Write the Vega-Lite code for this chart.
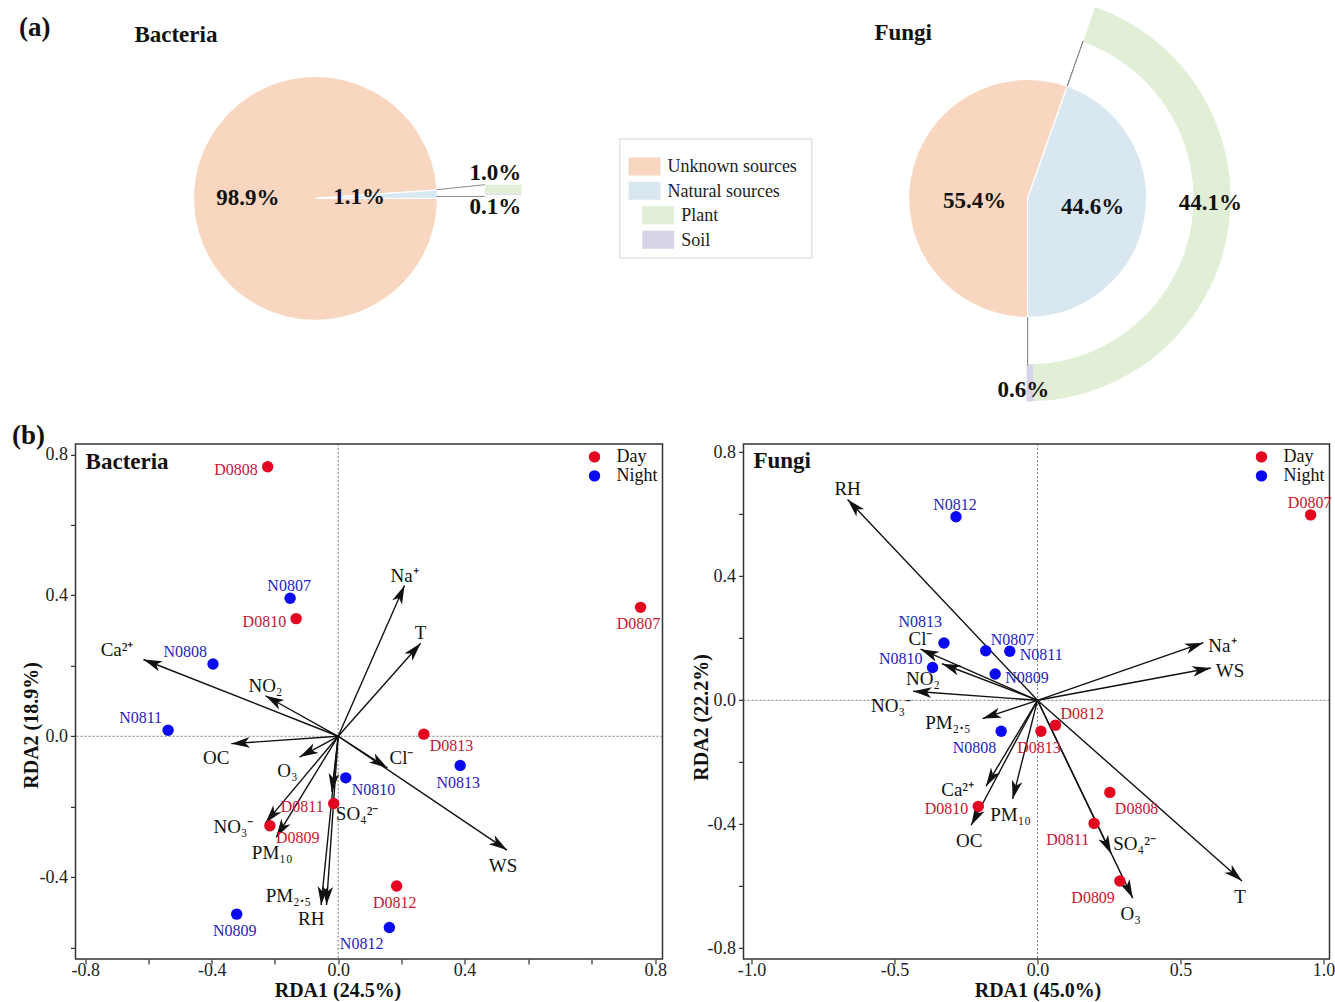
{
"$schema":"https://vega.github.io/schema/vega-lite/v6.json",
"background":"white",
"padding":{"left":10.5,"top":1.4,"right":0,"bottom":0},
"config":{
 "font":"Liberation Serif",
 "view":{"stroke":null},
 "axis":{"domain":false,"grid":false,"ticks":true,"tickSize":5,"tickColor":"#333333","tickWidth":1.2,"labelFont":"Liberation Serif","labelFontSize":18,"labelColor":"#222222","titleFont":"Liberation Serif","titleFontSize":20,"titleFontWeight":"bold","titleColor":"#111111","labelFlush":false,"labelOverlap":false},
 "legend":{"labelFont":"Liberation Serif"},
 "text":{"font":"Liberation Serif"},
 "title":{"font":"Liberation Serif","color":"#111111"}
},
"datasets":{
 "bac_src":[{"source":"Unknown sources","share":0.989},{"source":"Natural sources","share":0.011}],
 "bac_sub":[{"source":"Plant","share":0.010},{"source":"Soil","share":0.001}],
 "fun_src":[{"source":"Unknown sources","share":0.554},{"source":"Natural sources","share":0.446}],
 "fun_sub":[{"source":"Plant","share":0.441},{"source":"Soil","share":0.006}],
 "legend_items":[{"source":"Unknown sources","level":1},{"source":"Natural sources","level":1},{"source":"Plant","level":2},{"source":"Soil","level":2}],
 "bac_s":[
  {"name":"D0808","group":"Day","rda1":-0.223,"rda2":0.765},
  {"name":"N0807","group":"Night","rda1":-0.152,"rda2":0.392},
  {"name":"D0810","group":"Day","rda1":-0.133,"rda2":0.334},
  {"name":"D0807","group":"Day","rda1":0.769,"rda2":0.366},
  {"name":"N0808","group":"Night","rda1":-0.396,"rda2":0.205},
  {"name":"N0811","group":"Night","rda1":-0.538,"rda2":0.017},
  {"name":"D0813","group":"Day","rda1":0.271,"rda2":0.006},
  {"name":"N0813","group":"Night","rda1":0.386,"rda2":-0.083},
  {"name":"N0810","group":"Night","rda1":0.024,"rda2":-0.118},
  {"name":"D0811","group":"Day","rda1":-0.014,"rda2":-0.191},
  {"name":"D0809","group":"Day","rda1":-0.216,"rda2":-0.254},
  {"name":"N0809","group":"Night","rda1":-0.321,"rda2":-0.505},
  {"name":"D0812","group":"Day","rda1":0.185,"rda2":-0.425},
  {"name":"N0812","group":"Night","rda1":0.162,"rda2":-0.543}
 ],
 "bac_v":[
  {"id":"Na","label":"Na⁺","rda1":0.21,"rda2":0.428},
  {"id":"T","label":"T","rda1":0.261,"rda2":0.264},
  {"id":"Ca","label":"Ca²⁺","rda1":-0.616,"rda2":0.218},
  {"id":"NO2","label":"NO₂","rda1":-0.23,"rda2":0.115},
  {"id":"OC","label":"OC","rda1":-0.338,"rda2":-0.021},
  {"id":"O3","label":"O₃","rda1":-0.122,"rda2":-0.059},
  {"id":"Cl","label":"Cl⁻","rda1":0.156,"rda2":-0.09},
  {"id":"WS","label":"WS","rda1":0.489,"rda2":-0.323},
  {"id":"SO4","label":"SO₄²⁻","rda1":-0.02,"rda2":-0.158},
  {"id":"NO3","label":"NO₃⁻","rda1":-0.23,"rda2":-0.246},
  {"id":"PM10","label":"PM₁₀","rda1":-0.196,"rda2":-0.287},
  {"id":"PM25","label":"PM₂.₅","rda1":-0.054,"rda2":-0.479},
  {"id":"RH","label":"RH","rda1":-0.037,"rda2":-0.479}
 ],
 "fun_s":[
  {"name":"N0812","group":"Night","rda1":-0.285,"rda2":0.592},
  {"name":"D0807","group":"Day","rda1":0.955,"rda2":0.598},
  {"name":"N0813","group":"Night","rda1":-0.327,"rda2":0.185},
  {"name":"N0807","group":"Night","rda1":-0.181,"rda2":0.16},
  {"name":"N0811","group":"Night","rda1":-0.097,"rda2":0.158},
  {"name":"N0810","group":"Night","rda1":-0.367,"rda2":0.106},
  {"name":"N0809","group":"Night","rda1":-0.148,"rda2":0.085},
  {"name":"N0808","group":"Night","rda1":-0.127,"rda2":-0.1},
  {"name":"D0813","group":"Day","rda1":0.012,"rda2":-0.1},
  {"name":"D0812","group":"Day","rda1":0.063,"rda2":-0.08},
  {"name":"D0808","group":"Day","rda1":0.253,"rda2":-0.297},
  {"name":"D0810","group":"Day","rda1":-0.207,"rda2":-0.342},
  {"name":"D0811","group":"Day","rda1":0.198,"rda2":-0.397},
  {"name":"D0809","group":"Day","rda1":0.288,"rda2":-0.583}
 ],
 "fun_v":[
  {"id":"RH","label":"RH","rda1":-0.664,"rda2":0.648},
  {"id":"Na","label":"Na⁺","rda1":0.58,"rda2":0.186},
  {"id":"WS","label":"WS","rda1":0.606,"rda2":0.104},
  {"id":"Cl","label":"Cl⁻","rda1":-0.409,"rda2":0.165},
  {"id":"NO2","label":"NO₂","rda1":-0.334,"rda2":0.118},
  {"id":"NO3","label":"NO₃⁻","rda1":-0.435,"rda2":0.029},
  {"id":"PM25","label":"PM₂.₅","rda1":-0.192,"rda2":-0.059},
  {"id":"Ca","label":"Ca²⁺","rda1":-0.18,"rda2":-0.277},
  {"id":"PM10","label":"PM₁₀","rda1":-0.087,"rda2":-0.318},
  {"id":"OC","label":"OC","rda1":-0.232,"rda2":-0.403},
  {"id":"SO4","label":"SO₄²⁻","rda1":0.258,"rda2":-0.495},
  {"id":"O3","label":"O₃","rda1":0.333,"rda2":-0.638},
  {"id":"T","label":"T","rda1":0.715,"rda2":-0.583}
 ]
},
"spacing":18.5,
"resolve":{"scale":{"color":"independent","fill":"independent","x":"independent","y":"independent","theta":"independent"},"legend":{"color":"independent"}},
"vconcat":[
{
 "hconcat":[
  {
   "width":480,"height":394,
   "title":{"text":"(a)","anchor":"start","frame":"group","orient":"top","offset":0,"dx":-56.5,"dy":53.6,"baseline":"middle","fontSize":27,"fontWeight":"bold","font":"Liberation Serif","color":"#111111"},
   "layer":[
    {"data":{"name":"bac_src"},"mark":{"type":"arc","outerRadius":122,"stroke":"#ffffff","strokeWidth":1.2},
     "encoding":{"theta":{"field":"share","type":"quantitative","stack":true,"scale":{"type":"linear","domain":[0,1],"range":[1.5017,7.7849],"nice":false,"zero":false}},
      "color":{"field":"source","type":"nominal","scale":{"domain":["Unknown sources","Natural sources","Plant","Soil"],"range":["#f8d6bf","#d9e7f1","#e1efd7","#d7d4ea"]},"legend":null},
      "order":{"field":"source","type":"nominal","sort":"ascending"}}},
    {"data":{"name":"bac_src"},"mark":{"type":"text","radius":67.6,"dy":-2.6,"fontSize":23,"fontWeight":"bold","color":"#111111"},
     "encoding":{"theta":{"field":"share","type":"quantitative","stack":true,"scale":{"type":"linear","domain":[0,1],"range":[1.5017,7.7849],"nice":false,"zero":false}},
      "detail":{"field":"source","type":"nominal"},
      "order":{"field":"source","type":"nominal","sort":"ascending"},
      "text":{"condition":{"test":"datum.source === 'Unknown sources'","field":"share","type":"quantitative","format":".1%"},"value":""}}},
    {"data":{"name":"bac_src"},"mark":{"type":"text","radius":43.7,"fontSize":23,"fontWeight":"bold","color":"#111111"},
     "encoding":{"theta":{"field":"share","type":"quantitative","stack":true,"scale":{"type":"linear","domain":[0,1],"range":[1.5017,7.7849],"nice":false,"zero":false}},
      "detail":{"field":"source","type":"nominal"},
      "order":{"field":"source","type":"nominal","sort":"ascending"},
      "text":{"condition":{"test":"datum.source === 'Natural sources'","field":"share","type":"quantitative","format":".1%"},"value":""}}},
    {"data":{"name":"bac_sub"},
     "transform":[{"stack":"share","groupby":[],"sort":[{"field":"source","order":"descending"}],"as":["y0","y1"]}],
     "mark":{"type":"rect"},
     "encoding":{"x":{"datum":1.388,"type":"quantitative","scale":{"type":"linear","domain":[-1.967,1.967],"nice":false,"zero":false},"axis":null},
      "x2":{"datum":1.689},
      "y":{"field":"y0","type":"quantitative","scale":{"type":"linear","domain":[-0.2208,0.2127],"nice":false,"zero":false},"axis":null},
      "y2":{"field":"y1"},
      "color":{"field":"source","type":"nominal","scale":{"domain":["Unknown sources","Natural sources","Plant","Soil"],"range":["#f8d6bf","#d9e7f1","#e1efd7","#d7d4ea"]},"legend":null}}},
    {"data":{"values":[{}]},"mark":{"type":"rule","color":"#8a8a8a","strokeWidth":1},
     "encoding":{"x":{"datum":0.992,"type":"quantitative","scale":{"type":"linear","domain":[-1.967,1.967],"nice":false,"zero":false}},"y":{"datum":0.0055,"type":"quantitative","scale":{"type":"linear","domain":[-0.2208,0.2127],"nice":false,"zero":false}},"x2":{"datum":1.388},"y2":{"datum":0.011}}},
    {"data":{"values":[{}]},"mark":{"type":"rule","color":"#8a8a8a","strokeWidth":1},
     "encoding":{"x":{"datum":0.992,"type":"quantitative","scale":{"type":"linear","domain":[-1.967,1.967],"nice":false,"zero":false}},"y":{"datum":-0.0019,"type":"quantitative","scale":{"type":"linear","domain":[-0.2208,0.2127],"nice":false,"zero":false}},"x2":{"datum":1.388},"y2":{"datum":-0.0019}}},
    {"data":{"name":"bac_sub"},
     "transform":[{"stack":"share","groupby":[],"sort":[{"field":"source","order":"descending"}],"as":["y0","y1"]},{"filter":"datum.source === 'Plant'"}],
     "mark":{"type":"text","dy":-11.6,"fontSize":23,"fontWeight":"bold","color":"#111111","baseline":"middle"},
     "encoding":{"x":{"datum":1.475,"type":"quantitative","scale":{"type":"linear","domain":[-1.967,1.967],"nice":false,"zero":false}},"y":{"field":"y1","type":"quantitative","scale":{"type":"linear","domain":[-0.2208,0.2127],"nice":false,"zero":false}},"text":{"field":"share","type":"quantitative","format":".1%"}}},
    {"data":{"name":"bac_sub"},
     "transform":[{"stack":"share","groupby":[],"sort":[{"field":"source","order":"descending"}],"as":["y0","y1"]},{"filter":"datum.source === 'Soil'"}],
     "mark":{"type":"text","dy":12.7,"fontSize":23,"fontWeight":"bold","color":"#111111","baseline":"middle"},
     "encoding":{"x":{"datum":1.475,"type":"quantitative","scale":{"type":"linear","domain":[-1.967,1.967],"nice":false,"zero":false}},"y":{"field":"y0","type":"quantitative","scale":{"type":"linear","domain":[-0.2208,0.2127],"nice":false,"zero":false}},"text":{"field":"share","type":"quantitative","format":".1%"}}},
    {"data":{"values":[{}]},"mark":{"type":"text","align":"left","baseline":"middle","fontSize":23,"fontWeight":"bold","color":"#111111"},
     "encoding":{"x":{"datum":-1.484,"type":"quantitative","scale":{"type":"linear","domain":[-1.967,1.967],"nice":false,"zero":false}},"y":{"datum":0.1752,"type":"quantitative","scale":{"type":"linear","domain":[-0.2208,0.2127],"nice":false,"zero":false}},"text":{"value":"Bacteria"}}}
   ]
  },
  {
   "width":192,"height":119,
   "view":{"stroke":"#e2e2e2","strokeWidth":1.5},
   "data":{"name":"legend_items"},
   "layer":[
    {"mark":{"type":"point","shape":"M-1,-0.5625H1V0.5625H-1Z","filled":true,"size":1024,"opacity":1,"strokeWidth":0},
     "encoding":{"x":{"field":"level","type":"quantitative","scale":{"domain":[-0.803,13.212],"nice":false,"zero":false},"axis":null},
      "y":{"field":"source","type":"nominal","scale":{"type":"point","domain":["Unknown sources","Natural sources","Plant","Soil"],"padding":0.932,"align":0.603},"axis":null},
      "color":{"field":"source","type":"nominal","scale":{"domain":["Unknown sources","Natural sources","Plant","Soil"],"range":["#f8d6bf","#d9e7f1","#e1efd7","#d7d4ea"]},"legend":null}}},
    {"mark":{"type":"text","align":"left","baseline":"middle","dx":23,"dy":1,"fontSize":18,"color":"#222222"},
     "encoding":{"x":{"field":"level","type":"quantitative","scale":{"domain":[-0.803,13.212],"nice":false,"zero":false},"axis":null},
      "y":{"field":"source","type":"nominal","scale":{"type":"point","domain":["Unknown sources","Natural sources","Plant","Soil"],"padding":0.932,"align":0.603},"axis":null},
      "text":{"field":"source"}}}
   ]
  },
  {
   "width":303,"height":394,
   "title":{"text":"Fungi","anchor":"start","frame":"group","orient":"top","offset":0,"dx":-1.6,"dy":55,"baseline":"middle","fontSize":23,"fontWeight":"bold","font":"Liberation Serif","color":"#111111"},
   "layer":[
    {"data":{"name":"fun_src"},"mark":{"type":"arc","outerRadius":119,"stroke":"#ffffff","strokeWidth":1.2},
     "encoding":{"theta":{"field":"share","type":"quantitative","stack":true,"scale":{"type":"linear","domain":[0,1],"range":[0.3393,6.6225],"nice":false,"zero":false}},
      "color":{"field":"source","type":"nominal","scale":{"domain":["Unknown sources","Natural sources","Plant","Soil"],"range":["#f8d6bf","#d9e7f1","#e1efd7","#d7d4ea"]},"legend":null},
      "order":{"field":"source","type":"nominal","sort":"ascending"}}},
    {"data":{"name":"fun_sub"},"mark":{"type":"arc","innerRadius":166,"outerRadius":203},
     "encoding":{"theta":{"field":"share","type":"quantitative","stack":true,"scale":{"type":"linear","domain":[0,1],"range":[0.3393,6.6225],"nice":false,"zero":false}},
      "color":{"field":"source","type":"nominal","scale":{"domain":["Unknown sources","Natural sources","Plant","Soil"],"range":["#f8d6bf","#d9e7f1","#e1efd7","#d7d4ea"]},"legend":null},
      "order":{"field":"source","type":"nominal","sort":"ascending"}}},
    {"data":{"values":[{}]},"mark":{"type":"arc","innerRadius":119,"outerRadius":167,"stroke":"#8a8a8a","strokeWidth":1,"fillOpacity":0},
     "encoding":{"theta":{"datum":0,"type":"quantitative","scale":{"type":"linear","domain":[0,1],"range":[0.3393,6.6225],"nice":false,"zero":false}},"theta2":{"datum":0}}},
    {"data":{"values":[{}]},"mark":{"type":"arc","innerRadius":119,"outerRadius":167,"stroke":"#8a8a8a","strokeWidth":1,"fillOpacity":0},
     "encoding":{"theta":{"datum":0.446,"type":"quantitative","scale":{"type":"linear","domain":[0,1],"range":[0.3393,6.6225],"nice":false,"zero":false}},"theta2":{"datum":0.446}}},
    {"data":{"name":"fun_src"},"mark":{"type":"text","radius":55,"dx":1.2,"dy":12.3,"fontSize":23,"fontWeight":"bold","color":"#111111"},
     "encoding":{"theta":{"field":"share","type":"quantitative","stack":true,"scale":{"type":"linear","domain":[0,1],"range":[0.3393,6.6225],"nice":false,"zero":false}},
      "detail":{"field":"source","type":"nominal"},
      "order":{"field":"source","type":"nominal","sort":"ascending"},
      "text":{"condition":{"test":"datum.source === 'Unknown sources'","field":"share","type":"quantitative","format":".1%"},"value":""}}},
    {"data":{"name":"fun_src"},"mark":{"type":"text","radius":66,"dy":-3,"fontSize":23,"fontWeight":"bold","color":"#111111"},
     "encoding":{"theta":{"field":"share","type":"quantitative","stack":true,"scale":{"type":"linear","domain":[0,1],"range":[0.3393,6.6225],"nice":false,"zero":false}},
      "detail":{"field":"source","type":"nominal"},
      "order":{"field":"source","type":"nominal","sort":"ascending"},
      "text":{"condition":{"test":"datum.source === 'Natural sources'","field":"share","type":"quantitative","format":".1%"},"value":""}}},
    {"data":{"name":"fun_sub"},"mark":{"type":"text","radius":185,"dy":-24,"fontSize":23,"fontWeight":"bold","color":"#111111"},
     "encoding":{"theta":{"field":"share","type":"quantitative","stack":true,"scale":{"type":"linear","domain":[0,1],"range":[0.3393,6.6225],"nice":false,"zero":false}},
      "detail":{"field":"source","type":"nominal"},
      "order":{"field":"source","type":"nominal","sort":"ascending"},
      "text":{"condition":{"test":"datum.source === 'Plant'","field":"share","type":"quantitative","format":".1%"},"value":""}}},
    {"data":{"name":"fun_sub"},"mark":{"type":"text","radius":192,"dx":-6.6,"fontSize":23,"fontWeight":"bold","color":"#111111"},
     "encoding":{"theta":{"field":"share","type":"quantitative","stack":true,"scale":{"type":"linear","domain":[0,1],"range":[0.3393,6.6225],"nice":false,"zero":false}},
      "detail":{"field":"source","type":"nominal"},
      "order":{"field":"source","type":"nominal","sort":"ascending"},
      "text":{"condition":{"test":"datum.source === 'Soil'","field":"share","type":"quantitative","format":".1%"},"value":""}}}
   ]
  }
 ],
 "spacing":64.3,
 "bounds":"flush",
 "center":true,
 "resolve":{"scale":{"color":"independent","x":"independent","y":"independent","theta":"independent"},"legend":{"color":"independent"}}
},
{
 "hconcat":[
  {
   "width":587,"height":515,
   "view":{"stroke":"#333333","strokeWidth":1.5},
   "title":{"text":"(b)","anchor":"start","frame":"group","orient":"top","offset":0,"dx":-63.5,"dy":19.8,"baseline":"middle","fontSize":27,"fontWeight":"bold","font":"Liberation Serif","color":"#111111"},
   "layer":[
    {"data":{"values":[{}]},"mark":{"type":"rule","color":"#555555","strokeDash":[2,2],"strokeWidth":0.8},
     "encoding":{"y":{"datum":0,"type":"quantitative","scale":{"type":"linear","domain":[-0.632,0.83],"nice":false,"zero":false},
      "axis":{"title":"RDA2 (18.9%)","values":[-0.6,-0.4,-0.2,0,0.2,0.4,0.6,0.8],"labelExpr":"indexof([-0.4,0,0.4,0.8], datum.value) >= 0 ? replace(format(datum.value, '.1f'), '\u2212', '-') : ''","labelPadding":3,"titleX":-44,"titleY":281,"titleBaseline":"middle","titleAlign":"center","titleAngle":270}}}},
    {"data":{"values":[{}]},"mark":{"type":"rule","color":"#555555","strokeDash":[2,2],"strokeWidth":0.8},
     "encoding":{"x":{"datum":0,"type":"quantitative","scale":{"type":"linear","domain":[-0.831,0.4,0.815],"range":[0,389.1,587],"nice":false,"zero":false},
      "axis":{"title":"RDA1 (24.5%)","values":[-0.8,-0.6,-0.4,-0.2,0,0.2,0.4,0.5333,0.6667,0.8],"labelExpr":"indexof([-0.8,-0.4,0,0.4,0.8], datum.value) >= 0 ? replace(format(datum.value, '.1f'), '\u2212', '-') : ''","labelPadding":-2,"titleX":262,"titleY":31.6,"titleBaseline":"middle","titleAlign":"center"}}}},
    {"data":{"name":"bac_v"},"mark":{"type":"rule","color":"#111111","strokeWidth":1.4},
     "encoding":{"x":{"field":"rda1","type":"quantitative","scale":{"type":"linear","domain":[-0.831,0.4,0.815],"range":[0,389.1,587],"nice":false,"zero":false},
      "axis":{"title":"RDA1 (24.5%)","values":[-0.8,-0.6,-0.4,-0.2,0,0.2,0.4,0.5333,0.6667,0.8],"labelExpr":"indexof([-0.8,-0.4,0,0.4,0.8], datum.value) >= 0 ? replace(format(datum.value, '.1f'), '\u2212', '-') : ''","labelPadding":-2,"titleX":262,"titleY":31.6,"titleBaseline":"middle","titleAlign":"center"}},
      "y":{"field":"rda2","type":"quantitative","scale":{"type":"linear","domain":[-0.632,0.83],"nice":false,"zero":false},
      "axis":{"title":"RDA2 (18.9%)","values":[-0.6,-0.4,-0.2,0,0.2,0.4,0.6,0.8],"labelExpr":"indexof([-0.4,0,0.4,0.8], datum.value) >= 0 ? replace(format(datum.value, '.1f'), '\u2212', '-') : ''","labelPadding":3,"titleX":-44,"titleY":281,"titleBaseline":"middle","titleAlign":"center","titleAngle":270}},
      "x2":{"datum":0},"y2":{"datum":0}}},
    {"data":{"name":"bac_v"},"mark":{"type":"point","shape":"M0,0L-0.55,1.9L0,1.4L0.55,1.9Z","filled":true,"size":380,"color":"#111111","opacity":1,"strokeWidth":0,
      "angle":{"expr":"atan2(datum.rda1 > 0.4 ? 126.4 + (datum.rda1 - 0.4) * 476.9 : datum.rda1 * 316.1, datum.rda2 * 352.3) * 180 / PI"}},
     "encoding":{"x":{"field":"rda1","type":"quantitative","scale":{"type":"linear","domain":[-0.831,0.4,0.815],"range":[0,389.1,587],"nice":false,"zero":false}},
      "y":{"field":"rda2","type":"quantitative","scale":{"type":"linear","domain":[-0.632,0.83],"nice":false,"zero":false}}}},
    {"data":{"name":"bac_s"},"mark":{"type":"point","shape":"circle","filled":true,"size":130,"opacity":1},
     "encoding":{"x":{"field":"rda1","type":"quantitative","scale":{"type":"linear","domain":[-0.831,0.4,0.815],"range":[0,389.1,587],"nice":false,"zero":false}},
      "y":{"field":"rda2","type":"quantitative","scale":{"type":"linear","domain":[-0.632,0.83],"nice":false,"zero":false}},
      "color":{"field":"group","type":"nominal","scale":{"domain":["Day","Night"],"range":["#e3051f","#0a0af0"]},
       "legend":{"orient":"top-right","title":null,"offset":4,"padding":0,"symbolType":"circle","symbolSize":130,"symbolStrokeWidth":0,"labelFontSize":18,"labelFont":"Liberation Serif","labelColor":"#111111","labelOffset":13,"rowPadding":1}}}},
    {"data":{"name":"bac_s"},"transform":[{"filter":{"field":"name","oneOf":["D0808","D0810","D0811"]}}],
     "mark":{"type":"text","align":"right","baseline":"middle","dx":-10,"dy":3,"fontSize":16},
     "encoding":{"x":{"field":"rda1","type":"quantitative","scale":{"type":"linear","domain":[-0.831,0.4,0.815],"range":[0,389.1,587],"nice":false,"zero":false}},"y":{"field":"rda2","type":"quantitative","scale":{"type":"linear","domain":[-0.632,0.83],"nice":false,"zero":false}},"text":{"field":"name"},"fill":{"field":"group","type":"nominal","scale":{"domain":["Day","Night"],"range":["#c8172f","#2424c0"]},"legend":null}}},
    {"data":{"name":"bac_s"},"transform":[{"filter":{"field":"name","oneOf":["N0807"]}}],
     "mark":{"type":"text","align":"center","baseline":"middle","dx":-1,"dy":-12,"fontSize":16},
     "encoding":{"x":{"field":"rda1","type":"quantitative","scale":{"type":"linear","domain":[-0.831,0.4,0.815],"range":[0,389.1,587],"nice":false,"zero":false}},"y":{"field":"rda2","type":"quantitative","scale":{"type":"linear","domain":[-0.632,0.83],"nice":false,"zero":false}},"text":{"field":"name"},"fill":{"field":"group","type":"nominal","scale":{"domain":["Day","Night"],"range":["#c8172f","#2424c0"]},"legend":null}}},
    {"data":{"name":"bac_s"},"transform":[{"filter":{"field":"name","oneOf":["D0807","N0813","N0809","D0812"]}}],
     "mark":{"type":"text","align":"center","baseline":"middle","dx":-2,"dy":17,"fontSize":16},
     "encoding":{"x":{"field":"rda1","type":"quantitative","scale":{"type":"linear","domain":[-0.831,0.4,0.815],"range":[0,389.1,587],"nice":false,"zero":false}},"y":{"field":"rda2","type":"quantitative","scale":{"type":"linear","domain":[-0.632,0.83],"nice":false,"zero":false}},"text":{"field":"name"},"fill":{"field":"group","type":"nominal","scale":{"domain":["Day","Night"],"range":["#c8172f","#2424c0"]},"legend":null}}},
    {"data":{"name":"bac_s"},"transform":[{"filter":{"field":"name","oneOf":["N0808","N0811"]}}],
     "mark":{"type":"text","align":"right","baseline":"middle","dx":-6,"dy":-12,"fontSize":16},
     "encoding":{"x":{"field":"rda1","type":"quantitative","scale":{"type":"linear","domain":[-0.831,0.4,0.815],"range":[0,389.1,587],"nice":false,"zero":false}},"y":{"field":"rda2","type":"quantitative","scale":{"type":"linear","domain":[-0.632,0.83],"nice":false,"zero":false}},"text":{"field":"name"},"fill":{"field":"group","type":"nominal","scale":{"domain":["Day","Night"],"range":["#c8172f","#2424c0"]},"legend":null}}},
    {"data":{"name":"bac_s"},"transform":[{"filter":{"field":"name","oneOf":["N0810","D0809","D0813"]}}],
     "mark":{"type":"text","align":"left","baseline":"middle","dx":6,"dy":12,"fontSize":16},
     "encoding":{"x":{"field":"rda1","type":"quantitative","scale":{"type":"linear","domain":[-0.831,0.4,0.815],"range":[0,389.1,587],"nice":false,"zero":false}},"y":{"field":"rda2","type":"quantitative","scale":{"type":"linear","domain":[-0.632,0.83],"nice":false,"zero":false}},"text":{"field":"name"},"fill":{"field":"group","type":"nominal","scale":{"domain":["Day","Night"],"range":["#c8172f","#2424c0"]},"legend":null}}},
    {"data":{"name":"bac_s"},"transform":[{"filter":{"field":"name","oneOf":["N0812"]}}],
     "mark":{"type":"text","align":"right","baseline":"middle","dx":-6,"dy":16,"fontSize":16},
     "encoding":{"x":{"field":"rda1","type":"quantitative","scale":{"type":"linear","domain":[-0.831,0.4,0.815],"range":[0,389.1,587],"nice":false,"zero":false}},"y":{"field":"rda2","type":"quantitative","scale":{"type":"linear","domain":[-0.632,0.83],"nice":false,"zero":false}},"text":{"field":"name"},"fill":{"field":"group","type":"nominal","scale":{"domain":["Day","Night"],"range":["#c8172f","#2424c0"]},"legend":null}}},
    {"data":{"name":"bac_v"},"transform":[{"filter":{"field":"id","oneOf":["Na","T","NO2"]}}],
     "mark":{"type":"text","align":"center","baseline":"middle","dx":0,"dy":-10,"fontSize":19,"color":"#111111"},
     "encoding":{"x":{"field":"rda1","type":"quantitative","scale":{"type":"linear","domain":[-0.831,0.4,0.815],"range":[0,389.1,587],"nice":false,"zero":false}},"y":{"field":"rda2","type":"quantitative","scale":{"type":"linear","domain":[-0.632,0.83],"nice":false,"zero":false}},"text":{"field":"label"}}},
    {"data":{"name":"bac_v"},"transform":[{"filter":{"field":"id","oneOf":["Ca","PM25"]}}],
     "mark":{"type":"text","align":"right","baseline":"middle","dx":-10,"dy":-9,"fontSize":19,"color":"#111111"},
     "encoding":{"x":{"field":"rda1","type":"quantitative","scale":{"type":"linear","domain":[-0.831,0.4,0.815],"range":[0,389.1,587],"nice":false,"zero":false}},"y":{"field":"rda2","type":"quantitative","scale":{"type":"linear","domain":[-0.632,0.83],"nice":false,"zero":false}},"text":{"field":"label"}}},
    {"data":{"name":"bac_v"},"transform":[{"filter":{"field":"id","oneOf":["OC","O3","RH"]}}],
     "mark":{"type":"text","align":"right","baseline":"middle","dx":-2,"dy":14,"fontSize":19,"color":"#111111"},
     "encoding":{"x":{"field":"rda1","type":"quantitative","scale":{"type":"linear","domain":[-0.831,0.4,0.815],"range":[0,389.1,587],"nice":false,"zero":false}},"y":{"field":"rda2","type":"quantitative","scale":{"type":"linear","domain":[-0.632,0.83],"nice":false,"zero":false}},"text":{"field":"label"}}},
    {"data":{"name":"bac_v"},"transform":[{"filter":{"field":"id","oneOf":["Cl"]}}],
     "mark":{"type":"text","align":"left","baseline":"middle","dx":2,"dy":-10,"fontSize":19,"color":"#111111"},
     "encoding":{"x":{"field":"rda1","type":"quantitative","scale":{"type":"linear","domain":[-0.831,0.4,0.815],"range":[0,389.1,587],"nice":false,"zero":false}},"y":{"field":"rda2","type":"quantitative","scale":{"type":"linear","domain":[-0.632,0.83],"nice":false,"zero":false}},"text":{"field":"label"}}},
    {"data":{"name":"bac_v"},"transform":[{"filter":{"field":"id","oneOf":["WS","PM10"]}}],
     "mark":{"type":"text","align":"center","baseline":"middle","dx":-4,"dy":16,"fontSize":19,"color":"#111111"},
     "encoding":{"x":{"field":"rda1","type":"quantitative","scale":{"type":"linear","domain":[-0.831,0.4,0.815],"range":[0,389.1,587],"nice":false,"zero":false}},"y":{"field":"rda2","type":"quantitative","scale":{"type":"linear","domain":[-0.632,0.83],"nice":false,"zero":false}},"text":{"field":"label"}}},
    {"data":{"name":"bac_v"},"transform":[{"filter":{"field":"id","oneOf":["SO4"]}}],
     "mark":{"type":"text","align":"left","baseline":"middle","dx":4,"dy":22,"fontSize":19,"color":"#111111"},
     "encoding":{"x":{"field":"rda1","type":"quantitative","scale":{"type":"linear","domain":[-0.831,0.4,0.815],"range":[0,389.1,587],"nice":false,"zero":false}},"y":{"field":"rda2","type":"quantitative","scale":{"type":"linear","domain":[-0.632,0.83],"nice":false,"zero":false}},"text":{"field":"label"}}},
    {"data":{"name":"bac_v"},"transform":[{"filter":{"field":"id","oneOf":["NO3"]}}],
     "mark":{"type":"text","align":"right","baseline":"middle","dx":-12,"dy":4,"fontSize":19,"color":"#111111"},
     "encoding":{"x":{"field":"rda1","type":"quantitative","scale":{"type":"linear","domain":[-0.831,0.4,0.815],"range":[0,389.1,587],"nice":false,"zero":false}},"y":{"field":"rda2","type":"quantitative","scale":{"type":"linear","domain":[-0.632,0.83],"nice":false,"zero":false}},"text":{"field":"label"}}},
    {"data":{"values":[{}]},"mark":{"type":"text","align":"left","baseline":"middle","fontSize":23,"fontWeight":"bold","color":"#111111"},
     "encoding":{"x":{"datum":-0.799,"type":"quantitative","scale":{"type":"linear","domain":[-0.831,0.4,0.815],"range":[0,389.1,587],"nice":false,"zero":false}},"y":{"datum":0.778,"type":"quantitative","scale":{"type":"linear","domain":[-0.632,0.83],"nice":false,"zero":false}},"text":{"value":"Bacteria"}}}
   ]
  },
  {
   "width":586,"height":515,
   "view":{"stroke":"#333333","strokeWidth":1.5},
   "layer":[
    {"data":{"values":[{}]},"mark":{"type":"rule","color":"#555555","strokeDash":[2,2],"strokeWidth":0.8},
     "encoding":{"y":{"datum":0,"type":"quantitative","scale":{"type":"linear","domain":[-0.834,0.827],"nice":false,"zero":false},
      "axis":{"title":"RDA2 (22.2%)","values":[-0.8,-0.6,-0.4,-0.2,0,0.2,0.4,0.6,0.8],"labelExpr":"indexof([-0.8,-0.4,0,0.4,0.8], datum.value) >= 0 ? replace(format(datum.value, '.1f'), '\u2212', '-') : ''","labelPadding":3,"titleX":-42,"titleY":273,"titleBaseline":"middle","titleAlign":"center","titleAngle":270}}}},
    {"data":{"values":[{}]},"mark":{"type":"rule","color":"#555555","strokeDash":[2,2],"strokeWidth":0.8},
     "encoding":{"x":{"datum":0,"type":"quantitative","scale":{"type":"linear","domain":[-1.028,1.021],"nice":false,"zero":false},
      "axis":{"title":"RDA1 (45.0%)","values":[-1,-0.5,0,0.5,1],"labelExpr":"replace(format(datum.value, '.1f'), '\u2212', '-')","labelPadding":-2,"titleX":294,"titleY":31.6,"titleBaseline":"middle","titleAlign":"center"}}}},
    {"data":{"name":"fun_v"},"mark":{"type":"rule","color":"#111111","strokeWidth":1.4},
     "encoding":{"x":{"field":"rda1","type":"quantitative","scale":{"type":"linear","domain":[-1.028,1.021],"nice":false,"zero":false},
      "axis":{"title":"RDA1 (45.0%)","values":[-1,-0.5,0,0.5,1],"labelExpr":"replace(format(datum.value, '.1f'), '\u2212', '-')","labelPadding":-2,"titleX":294,"titleY":31.6,"titleBaseline":"middle","titleAlign":"center"}},
      "y":{"field":"rda2","type":"quantitative","scale":{"type":"linear","domain":[-0.834,0.827],"nice":false,"zero":false},
      "axis":{"title":"RDA2 (22.2%)","values":[-0.8,-0.6,-0.4,-0.2,0,0.2,0.4,0.6,0.8],"labelExpr":"indexof([-0.8,-0.4,0,0.4,0.8], datum.value) >= 0 ? replace(format(datum.value, '.1f'), '\u2212', '-') : ''","labelPadding":3,"titleX":-42,"titleY":273,"titleBaseline":"middle","titleAlign":"center","titleAngle":270}},
      "x2":{"datum":0},"y2":{"datum":0}}},
    {"data":{"name":"fun_v"},"mark":{"type":"point","shape":"M0,0L-0.55,1.9L0,1.4L0.55,1.9Z","filled":true,"size":380,"color":"#111111","opacity":1,"strokeWidth":0,
      "angle":{"expr":"atan2(datum.rda1 * 286, datum.rda2 * 310.1) * 180 / PI"}},
     "encoding":{"x":{"field":"rda1","type":"quantitative","scale":{"type":"linear","domain":[-1.028,1.021],"nice":false,"zero":false}},
      "y":{"field":"rda2","type":"quantitative","scale":{"type":"linear","domain":[-0.834,0.827],"nice":false,"zero":false}}}},
    {"data":{"name":"fun_s"},"mark":{"type":"point","shape":"circle","filled":true,"size":130,"opacity":1},
     "encoding":{"x":{"field":"rda1","type":"quantitative","scale":{"type":"linear","domain":[-1.028,1.021],"nice":false,"zero":false}},
      "y":{"field":"rda2","type":"quantitative","scale":{"type":"linear","domain":[-0.834,0.827],"nice":false,"zero":false}},
      "color":{"field":"group","type":"nominal","scale":{"domain":["Day","Night"],"range":["#e3051f","#0a0af0"]},
       "legend":{"orient":"top-right","title":null,"offset":4,"padding":0,"symbolType":"circle","symbolSize":130,"symbolStrokeWidth":0,"labelFontSize":18,"labelFont":"Liberation Serif","labelColor":"#111111","labelOffset":13,"rowPadding":1}}}},
    {"data":{"name":"fun_s"},"transform":[{"filter":{"field":"name","oneOf":["D0810"]}}],
     "mark":{"type":"text","align":"right","baseline":"middle","dx":-10,"dy":3,"fontSize":16},
     "encoding":{"x":{"field":"rda1","type":"quantitative","scale":{"type":"linear","domain":[-1.028,1.021],"nice":false,"zero":false}},"y":{"field":"rda2","type":"quantitative","scale":{"type":"linear","domain":[-0.834,0.827],"nice":false,"zero":false}},"text":{"field":"name"},"fill":{"field":"group","type":"nominal","scale":{"domain":["Day","Night"],"range":["#c8172f","#2424c0"]},"legend":null}}},
    {"data":{"name":"fun_s"},"transform":[{"filter":{"field":"name","oneOf":["N0812","D0807"]}}],
     "mark":{"type":"text","align":"center","baseline":"middle","dx":-1,"dy":-12,"fontSize":16},
     "encoding":{"x":{"field":"rda1","type":"quantitative","scale":{"type":"linear","domain":[-1.028,1.021],"nice":false,"zero":false}},"y":{"field":"rda2","type":"quantitative","scale":{"type":"linear","domain":[-0.834,0.827],"nice":false,"zero":false}},"text":{"field":"name"},"fill":{"field":"group","type":"nominal","scale":{"domain":["Day","Night"],"range":["#c8172f","#2424c0"]},"legend":null}}},
    {"data":{"name":"fun_s"},"transform":[{"filter":{"field":"name","oneOf":["D0813"]}}],
     "mark":{"type":"text","align":"center","baseline":"middle","dx":-2,"dy":17,"fontSize":16},
     "encoding":{"x":{"field":"rda1","type":"quantitative","scale":{"type":"linear","domain":[-1.028,1.021],"nice":false,"zero":false}},"y":{"field":"rda2","type":"quantitative","scale":{"type":"linear","domain":[-0.834,0.827],"nice":false,"zero":false}},"text":{"field":"name"},"fill":{"field":"group","type":"nominal","scale":{"domain":["Day","Night"],"range":["#c8172f","#2424c0"]},"legend":null}}},
    {"data":{"name":"fun_s"},"transform":[{"filter":{"field":"name","oneOf":["N0810"]}}],
     "mark":{"type":"text","align":"right","baseline":"middle","dx":-10,"dy":-8,"fontSize":16},
     "encoding":{"x":{"field":"rda1","type":"quantitative","scale":{"type":"linear","domain":[-1.028,1.021],"nice":false,"zero":false}},"y":{"field":"rda2","type":"quantitative","scale":{"type":"linear","domain":[-0.834,0.827],"nice":false,"zero":false}},"text":{"field":"name"},"fill":{"field":"group","type":"nominal","scale":{"domain":["Day","Night"],"range":["#c8172f","#2424c0"]},"legend":null}}},
    {"data":{"name":"fun_s"},"transform":[{"filter":{"field":"name","oneOf":["N0813"]}}],
     "mark":{"type":"text","align":"right","baseline":"middle","dx":-2,"dy":-21,"fontSize":16},
     "encoding":{"x":{"field":"rda1","type":"quantitative","scale":{"type":"linear","domain":[-1.028,1.021],"nice":false,"zero":false}},"y":{"field":"rda2","type":"quantitative","scale":{"type":"linear","domain":[-0.834,0.827],"nice":false,"zero":false}},"text":{"field":"name"},"fill":{"field":"group","type":"nominal","scale":{"domain":["Day","Night"],"range":["#c8172f","#2424c0"]},"legend":null}}},
    {"data":{"name":"fun_s"},"transform":[{"filter":{"field":"name","oneOf":["D0808"]}}],
     "mark":{"type":"text","align":"left","baseline":"middle","dx":5,"dy":17,"fontSize":16},
     "encoding":{"x":{"field":"rda1","type":"quantitative","scale":{"type":"linear","domain":[-1.028,1.021],"nice":false,"zero":false}},"y":{"field":"rda2","type":"quantitative","scale":{"type":"linear","domain":[-0.834,0.827],"nice":false,"zero":false}},"text":{"field":"name"},"fill":{"field":"group","type":"nominal","scale":{"domain":["Day","Night"],"range":["#c8172f","#2424c0"]},"legend":null}}},
    {"data":{"name":"fun_s"},"transform":[{"filter":{"field":"name","oneOf":["N0808","D0811","D0809"]}}],
     "mark":{"type":"text","align":"right","baseline":"middle","dx":-5,"dy":17,"fontSize":16},
     "encoding":{"x":{"field":"rda1","type":"quantitative","scale":{"type":"linear","domain":[-1.028,1.021],"nice":false,"zero":false}},"y":{"field":"rda2","type":"quantitative","scale":{"type":"linear","domain":[-0.834,0.827],"nice":false,"zero":false}},"text":{"field":"name"},"fill":{"field":"group","type":"nominal","scale":{"domain":["Day","Night"],"range":["#c8172f","#2424c0"]},"legend":null}}},
    {"data":{"name":"fun_s"},"transform":[{"filter":{"field":"name","oneOf":["N0811","N0809"]}}],
     "mark":{"type":"text","align":"left","baseline":"middle","dx":10,"dy":4,"fontSize":16},
     "encoding":{"x":{"field":"rda1","type":"quantitative","scale":{"type":"linear","domain":[-1.028,1.021],"nice":false,"zero":false}},"y":{"field":"rda2","type":"quantitative","scale":{"type":"linear","domain":[-0.834,0.827],"nice":false,"zero":false}},"text":{"field":"name"},"fill":{"field":"group","type":"nominal","scale":{"domain":["Day","Night"],"range":["#c8172f","#2424c0"]},"legend":null}}},
    {"data":{"name":"fun_s"},"transform":[{"filter":{"field":"name","oneOf":["N0807","D0812"]}}],
     "mark":{"type":"text","align":"left","baseline":"middle","dx":5,"dy":-11,"fontSize":16},
     "encoding":{"x":{"field":"rda1","type":"quantitative","scale":{"type":"linear","domain":[-1.028,1.021],"nice":false,"zero":false}},"y":{"field":"rda2","type":"quantitative","scale":{"type":"linear","domain":[-0.834,0.827],"nice":false,"zero":false}},"text":{"field":"name"},"fill":{"field":"group","type":"nominal","scale":{"domain":["Day","Night"],"range":["#c8172f","#2424c0"]},"legend":null}}},
    {"data":{"name":"fun_v"},"transform":[{"filter":{"field":"id","oneOf":["RH","Cl"]}}],
     "mark":{"type":"text","align":"center","baseline":"middle","dx":0,"dy":-10,"fontSize":19,"color":"#111111"},
     "encoding":{"x":{"field":"rda1","type":"quantitative","scale":{"type":"linear","domain":[-1.028,1.021],"nice":false,"zero":false}},"y":{"field":"rda2","type":"quantitative","scale":{"type":"linear","domain":[-0.834,0.827],"nice":false,"zero":false}},"text":{"field":"label"}}},
    {"data":{"name":"fun_v"},"transform":[{"filter":{"field":"id","oneOf":["Na","WS"]}}],
     "mark":{"type":"text","align":"left","baseline":"middle","dx":5,"dy":3,"fontSize":19,"color":"#111111"},
     "encoding":{"x":{"field":"rda1","type":"quantitative","scale":{"type":"linear","domain":[-1.028,1.021],"nice":false,"zero":false}},"y":{"field":"rda2","type":"quantitative","scale":{"type":"linear","domain":[-0.834,0.827],"nice":false,"zero":false}},"text":{"field":"label"}}},
    {"data":{"name":"fun_v"},"transform":[{"filter":{"field":"id","oneOf":["NO2","NO3"]}}],
     "mark":{"type":"text","align":"right","baseline":"middle","dx":-2,"dy":15,"fontSize":19,"color":"#111111"},
     "encoding":{"x":{"field":"rda1","type":"quantitative","scale":{"type":"linear","domain":[-1.028,1.021],"nice":false,"zero":false}},"y":{"field":"rda2","type":"quantitative","scale":{"type":"linear","domain":[-0.834,0.827],"nice":false,"zero":false}},"text":{"field":"label"}}},
    {"data":{"name":"fun_v"},"transform":[{"filter":{"field":"id","oneOf":["PM25","Ca"]}}],
     "mark":{"type":"text","align":"right","baseline":"middle","dx":-12,"dy":4,"fontSize":19,"color":"#111111"},
     "encoding":{"x":{"field":"rda1","type":"quantitative","scale":{"type":"linear","domain":[-1.028,1.021],"nice":false,"zero":false}},"y":{"field":"rda2","type":"quantitative","scale":{"type":"linear","domain":[-0.834,0.827],"nice":false,"zero":false}},"text":{"field":"label"}}},
    {"data":{"name":"fun_v"},"transform":[{"filter":{"field":"id","oneOf":["PM10","OC","O3","T"]}}],
     "mark":{"type":"text","align":"center","baseline":"middle","dx":-2,"dy":16,"fontSize":19,"color":"#111111"},
     "encoding":{"x":{"field":"rda1","type":"quantitative","scale":{"type":"linear","domain":[-1.028,1.021],"nice":false,"zero":false}},"y":{"field":"rda2","type":"quantitative","scale":{"type":"linear","domain":[-0.834,0.827],"nice":false,"zero":false}},"text":{"field":"label"}}},
    {"data":{"name":"fun_v"},"transform":[{"filter":{"field":"id","oneOf":["SO4"]}}],
     "mark":{"type":"text","align":"left","baseline":"middle","dx":2,"dy":-10,"fontSize":19,"color":"#111111"},
     "encoding":{"x":{"field":"rda1","type":"quantitative","scale":{"type":"linear","domain":[-1.028,1.021],"nice":false,"zero":false}},"y":{"field":"rda2","type":"quantitative","scale":{"type":"linear","domain":[-0.834,0.827],"nice":false,"zero":false}},"text":{"field":"label"}}},
    {"data":{"values":[{}]},"mark":{"type":"text","align":"left","baseline":"middle","fontSize":23,"fontWeight":"bold","color":"#111111"},
     "encoding":{"x":{"datum":-0.993,"type":"quantitative","scale":{"type":"linear","domain":[-1.028,1.021],"nice":false,"zero":false}},"y":{"datum":0.772,"type":"quantitative","scale":{"type":"linear","domain":[-0.834,0.827],"nice":false,"zero":false}},"text":{"value":"Fungi"}}}
   ]
  }
 ],
 "spacing":81,
 "bounds":"flush",
 "resolve":{"scale":{"color":"independent","fill":"independent","x":"independent","y":"independent"},"legend":{"color":"independent"}}
}
]
}
